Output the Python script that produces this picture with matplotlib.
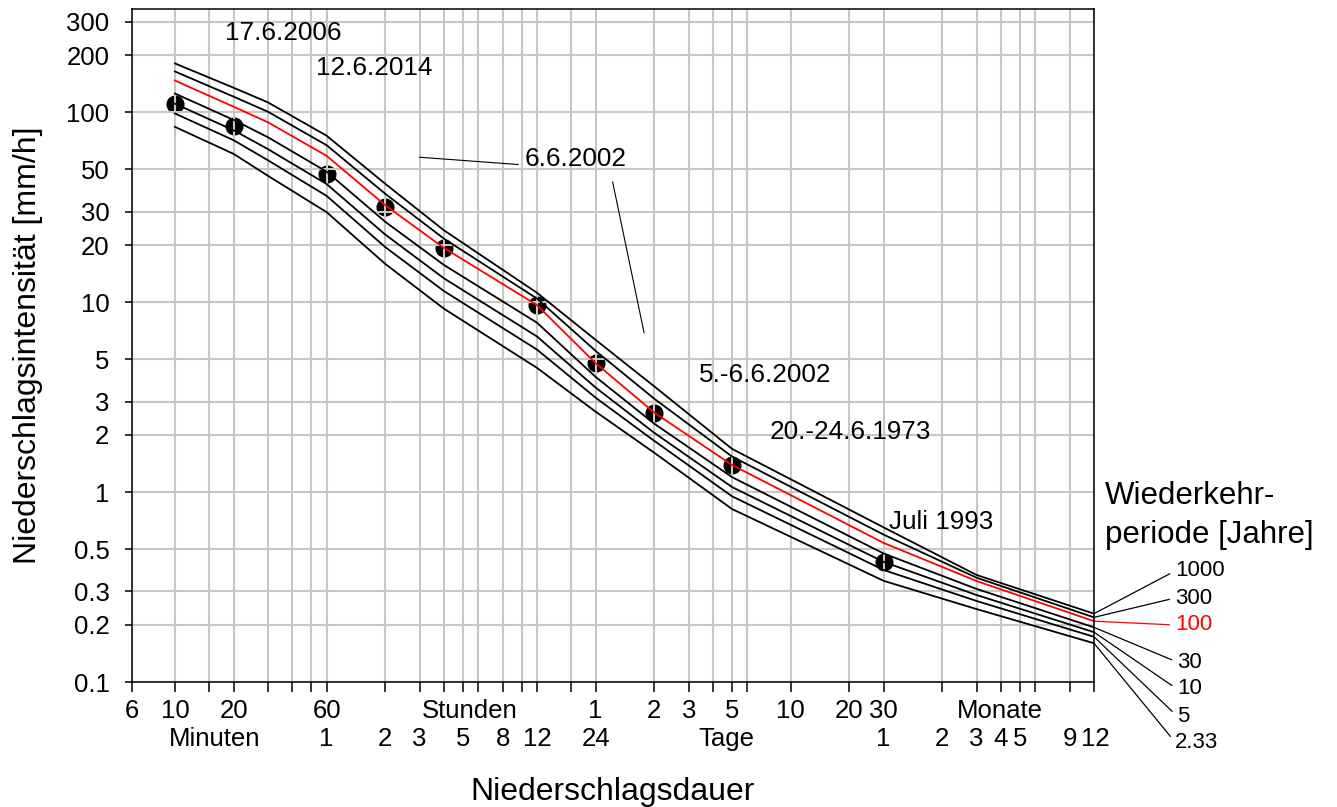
import numpy as np
import matplotlib
matplotlib.use("Agg")
import matplotlib.pyplot as plt
from matplotlib import ticker

plt.rcParams['font.family'] = ['Liberation Sans', 'DejaVu Sans']

# durations in minutes (1 day = 1440, 1 month = 30 days)
durations = [10, 20, 30, 60, 120, 240, 720, 1440, 2880, 7200, 43200, 129600, 518400]

# intensity [mm/h] per return period
i_1000 = [180.9, 134.7, 112.8, 75.3, 42.0, 23.9, 11.21, 6.33, 3.60, 1.69, 0.652, 0.366, 0.229]
i_300 = [164.1, 120.9, 100.7, 67.1, 37.2, 21.6, 10.45, 5.54, 3.10, 1.54, 0.597, 0.354, 0.219]
i_100 = [147.0, 107.0, 88.6, 59.0, 32.4, 19.3, 9.65, 4.77, 2.62, 1.39, 0.540, 0.340, 0.209]
i_30 = [125.6, 91.2, 73.9, 48.7, 26.5, 15.7, 7.80, 4.04, 2.29, 1.20, 0.475, 0.309, 0.194]
i_10 = [111.0, 80.4, 64.0, 41.9, 22.7, 13.35, 6.60, 3.55, 2.05, 1.064, 0.429, 0.287, 0.183]
i_5 = [98.6, 71.3, 55.9, 36.3, 19.5, 11.44, 5.63, 3.14, 1.86, 0.951, 0.389, 0.267, 0.173]
i_233 = [83.8, 60.4, 46.3, 29.8, 15.9, 9.24, 4.51, 2.65, 1.61, 0.815, 0.341, 0.242, 0.160]

period_names = ['1000', '300', '100', '30', '10', '5', '2.33']
# where the period labels sit, in pixels from the top-left of the figure
period_label_px = [(1175, 571), (1175, 598), (1175, 625), (1177, 662), (1177, 689), (1177, 716), (1175, 742)]

# observed events
event_durations = [10, 20, 60, 120, 240, 720, 1440, 2880, 7200, 43200]
event_intensity = [110.7, 85.1, 47.5, 31.7, 19.2, 9.65, 4.77, 2.62, 1.39, 0.43]

# event labels: (text, duration at left edge, intensity at text middle)
event_labels = [
    ('17.6.2006', 18.1, 262),
    ('12.6.2014', 53.2, 171.7),
    ('6.6.2002', 624, 57.1),
    ('5.-6.6.2002', 4890, 4.16),
    ('20.-24.6.1973', 11220, 2.08),
    ('Juli 1993', 46300, 0.692),
]
leader_lines = [((180, 576), (58.0, 53.1)), ((1760, 2550), (42.9, 6.91))]

grid_x = [10, 15, 20, 30, 40, 50, 60, 120, 180, 240, 300, 360, 480, 600, 720, 1080, 1440,
          2880, 4320, 5760, 7200, 8640, 14400, 28800, 43200,
          86400, 129600, 172800, 216000, 259200, 388800, 518400]
y_ticks = [0.1, 0.2, 0.3, 0.5, 1, 2, 3, 5, 10, 20, 30, 50, 100, 200, 300]
y_ticklabels = ['0.1', '0.2', '0.3', '0.5', '1', '2', '3', '5', '10', '20', '30', '50', '100', '200', '300']

row1_pos = [6, 10, 20, 60, 325, 1440, 2880, 4320, 7200, 14400, 28800, 43200, 170000]
row1_text = ['6', '10', '20', '60', 'Stunden', '1', '2', '3', '5', '10', '20', '30', 'Monate']
row2_pos = [16, 60, 120, 180, 300, 480, 720, 1440, 6730, 43200, 86400, 129600, 172800, 216000, 388800, 525000]
row2_text = ['Minuten', '1', '2', '3', '5', '8', '12', '24', 'Tage', '1', '2', '3', '4', '5', '9', '12']

W, H = 1337, 807
fig = plt.figure(figsize=(W / 100, H / 100), dpi=100)
ax = fig.add_axes([131.7 / W, 1 - 682 / H, (1094 - 131.7) / W, (682 - 9) / H])
ax.set_xscale('log')
ax.set_yscale('log')
ax.set_xlim(6, 518400)
ax.set_ylim(0.1, 350)

grid_col = '#c8c8be'
ax.set_axisbelow(False)
ax.xaxis.set_major_locator(ticker.FixedLocator([6] + grid_x))
ax.xaxis.set_minor_locator(ticker.NullLocator())
ax.xaxis.set_major_formatter(ticker.NullFormatter())
ax.yaxis.set_major_locator(ticker.FixedLocator(y_ticks))
ax.yaxis.set_minor_locator(ticker.NullLocator())
ax.yaxis.set_major_formatter(ticker.FixedFormatter(y_ticklabels))
ax.grid(True, which='major', color=grid_col, lw=1.5)
ax.tick_params(axis='x', length=7, width=1.1, direction='out')
ax.tick_params(axis='y', length=5, width=1.1, direction='out', pad=11, labelsize=18.5)
for sp in ax.spines.values():
    sp.set_linewidth(1.1)
    sp.set_zorder(5)

# events: drawn below the grid, like the original
ax.plot(event_durations, event_intensity, 'o', color='black', ms=12, zorder=2)

curves = [i_1000, i_300, i_100, i_30, i_10, i_5, i_233]
for name, vals in zip(period_names, curves):
    col = 'red' if name == '100' else 'black'
    ax.plot(durations, vals, color=col, lw=1.3, zorder=4 if col == 'red' else 3)

for (xs, ys) in leader_lines:
    ax.plot(xs, ys, color='black', lw=0.8, zorder=3)
for txt, x, y in event_labels:
    ax.text(x, y, txt, ha='left', va='center', fontsize=18.8, zorder=6)

# period labels with leader lines to the curve ends
for name, vals, (px, py) in zip(period_names, curves, period_label_px):
    col = 'red' if name == '100' else 'black'
    ax.annotate(name, xy=(durations[-1], vals[-1]), xycoords='data',
                xytext=(px, H - py), textcoords='figure pixels',
                ha='left', va='center', fontsize=16, color=col,
                arrowprops=dict(arrowstyle='-', color=col, lw=0.9,
                                shrinkA=2, shrinkB=0, relpos=(0, 0.5)),
                annotation_clip=False)

fig.text(1105 / W, 1 - 496 / H, 'Wiederkehr-', ha='left', va='center', fontsize=22.5)
fig.text(1105 / W, 1 - 535 / H, 'periode [Jahre]', ha='left', va='center', fontsize=22.5)

# two-row duration labels under the axis
tr = ax.get_xaxis_transform()
for x, s in zip(row1_pos, row1_text):
    ax.text(x, -0.0535, s, transform=tr, ha='center', va='baseline', fontsize=18.5)
for x, s in zip(row2_pos, row2_text):
    ax.text(x, -0.0958, s, transform=tr, ha='center', va='baseline', fontsize=18.5)

fig.text(613 / W, 1 - 800 / H, 'Niederschlagsdauer', ha='center', va='baseline', fontsize=23)
fig.text(28 / W, 1 - 345 / H, 'Niederschlagsintensität [mm/h]', ha='center', va='center',
         rotation=90, fontsize=23)

fig.savefig('out.png', dpi=100)
